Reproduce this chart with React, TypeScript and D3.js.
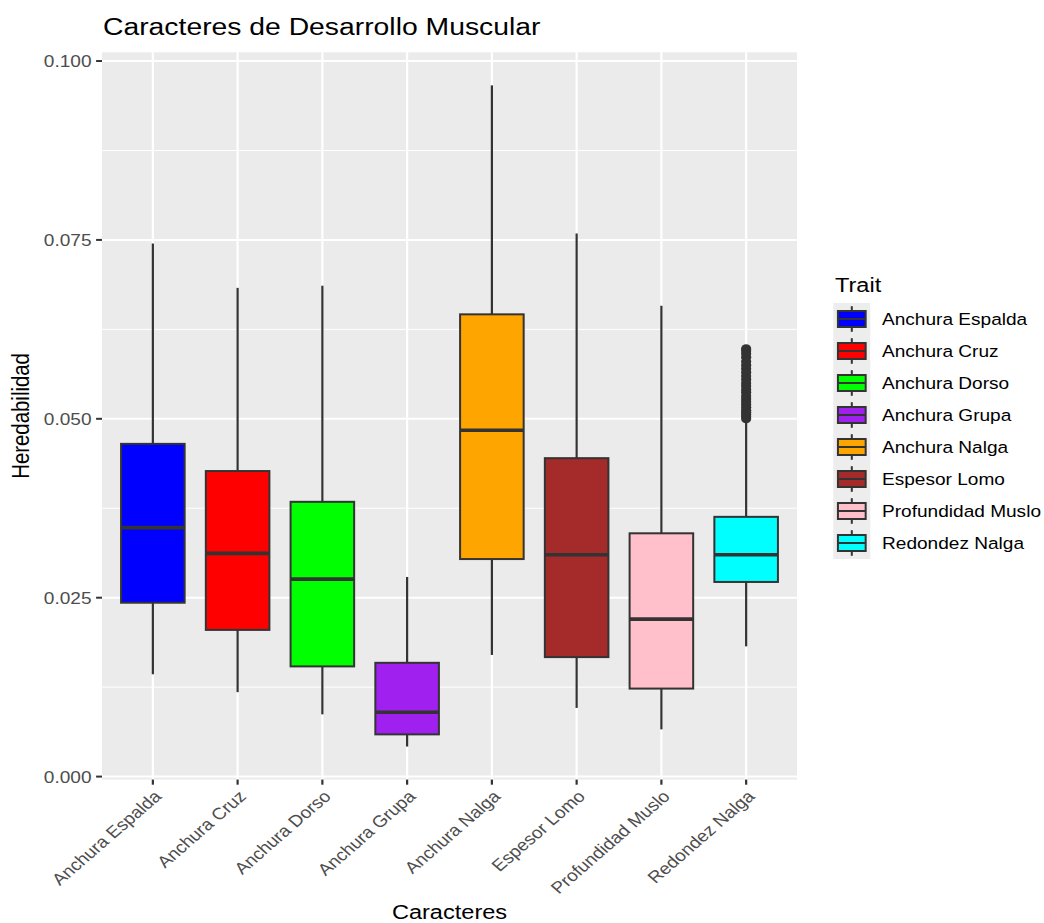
import React from "react";
import * as d3 from "d3";

// Traits and their fill colours
const traits = [
  "Anchura Espalda",
  "Anchura Cruz",
  "Anchura Dorso",
  "Anchura Grupa",
  "Anchura Nalga",
  "Espesor Lomo",
  "Profundidad Muslo",
  "Redondez Nalga",
];
const fills = [
  "#0000FF",
  "#FF0000",
  "#00FF00",
  "#A020F0",
  "#FFA500",
  "#A52A2A",
  "#FFC0CB",
  "#00FFFF",
];

// Box statistics per trait
const whiskerLow = [0.0143, 0.0118, 0.0087, 0.0042, 0.017, 0.0096, 0.0066, 0.0182];
const q1 = [0.0243, 0.0205, 0.0154, 0.0059, 0.0304, 0.0167, 0.0123, 0.0272];
const medians = [0.0348, 0.0312, 0.0276, 0.009, 0.0484, 0.031, 0.022, 0.031];
const q3 = [0.0465, 0.0427, 0.0384, 0.0159, 0.0646, 0.0445, 0.034, 0.0363];
const whiskerHigh = [0.0745, 0.0683, 0.0686, 0.0279, 0.0966, 0.0759, 0.0658, 0.0498];

// Outliers above the upper whisker of Redondez Nalga
const redondezOutliers = [
  0.05, 0.0503, 0.0506, 0.0509, 0.0512, 0.0516, 0.052, 0.0524, 0.0528, 0.0532,
  0.0537, 0.0541, 0.0546, 0.055, 0.0555, 0.056, 0.0565, 0.057, 0.0575, 0.058,
  0.0586, 0.0591, 0.0595, 0.0598,
];

const yTicks = [0, 0.025, 0.05, 0.075, 0.1];
const yMinorTicks = [0.0125, 0.0375, 0.0625, 0.0875];

const W = 1044;
const H = 923;
// horizontal stretch applied to the text glyphs
const SX = 1.156;
const FONT = "'Liberation Sans', Arial, Helvetica, sans-serif";

const panel = { left: 102, right: 797, top: 52.3, bottom: 779.6 };

const dataMin = d3.min(whiskerLow) as number;
const dataMax = d3.max([...whiskerHigh, ...redondezOutliers]) as number;
const pad = (dataMax - dataMin) * 0.05;

const x = d3
  .scalePoint<string>()
  .domain(traits)
  .range([panel.left, panel.right])
  .padding(0.6);
const y = d3
  .scaleLinear()
  .domain([dataMin - pad, dataMax + pad])
  .range([panel.bottom, panel.top]);

const boxW = x.step() * 0.75;
const fmt = d3.format(".3f");

type TProps = {
  x: number;
  y: number;
  size: number;
  rotate?: number;
  anchor?: "start" | "middle" | "end";
  fill?: string;
  dy?: string;
  children: React.ReactNode;
};

function Label({ x, y, size, rotate = 0, anchor = "start", fill = "#000", dy, children }: TProps) {
  return (
    <text
      transform={`translate(${x},${y}) scale(${SX},1)${rotate ? ` rotate(${rotate})` : ""}`}
      fontSize={size}
      fontFamily={FONT}
      textAnchor={anchor}
      fill={fill}
      dy={dy}
    >
      {children}
    </text>
  );
}

export default function App() {
  const keyTop = 303;
  const keyH = 32;
  const keyLeft = 833.3;
  const keyW = 37;

  return (
    <svg
      width={W}
      height={H}
      style={{ position: "absolute", left: 0, top: 0, display: "block", background: "#fff" }}
    >
      <rect width={W} height={H} fill="#fff" />

      {/* panel */}
      <rect
        x={panel.left}
        y={panel.top}
        width={panel.right - panel.left}
        height={panel.bottom - panel.top}
        fill="#EBEBEB"
      />
      {yMinorTicks.map((v) => (
        <line key={`mn${v}`} x1={panel.left} x2={panel.right} y1={y(v)} y2={y(v)} stroke="#fff" strokeWidth={1} />
      ))}
      {yTicks.map((v) => (
        <line key={`mj${v}`} x1={panel.left} x2={panel.right} y1={y(v)} y2={y(v)} stroke="#fff" strokeWidth={2} />
      ))}
      {traits.map((t) => (
        <line key={`vg${t}`} x1={x(t)} x2={x(t)} y1={panel.top} y2={panel.bottom} stroke="#fff" strokeWidth={2.2} />
      ))}

      {/* boxes */}
      {traits.map((t, i) => {
        const cx = x(t) as number;
        return (
          <g key={`b${t}`}>
            <line x1={cx} x2={cx} y1={y(q3[i])} y2={y(whiskerHigh[i])} stroke="#333" strokeWidth={2.2} />
            <line x1={cx} x2={cx} y1={y(q1[i])} y2={y(whiskerLow[i])} stroke="#333" strokeWidth={2.2} />
            <rect
              x={cx - boxW / 2}
              y={y(q3[i])}
              width={boxW}
              height={y(q1[i]) - y(q3[i])}
              fill={fills[i]}
              stroke="#333"
              strokeWidth={2}
            />
            <line
              x1={cx - boxW / 2}
              x2={cx + boxW / 2}
              y1={y(medians[i])}
              y2={y(medians[i])}
              stroke="#333"
              strokeWidth={3.6}
            />
          </g>
        );
      })}
      {redondezOutliers.map((v, j) => (
        <ellipse
          key={`o${j}`}
          cx={x("Redondez Nalga")}
          cy={y(v)}
          rx={4.4 * SX}
          ry={4.4}
          fill="#333"
        />
      ))}

      {/* y axis */}
      {yTicks.map((v) => (
        <g key={`yt${v}`}>
          <line x1={panel.left - 5.9} x2={panel.left} y1={y(v)} y2={y(v)} stroke="#333" strokeWidth={2} />
          <Label x={91.5} y={y(v)} size={16.5} anchor="end" fill="#4D4D4D" dy="0.36em">
            {fmt(v)}
          </Label>
        </g>
      ))}
      <Label x={29} y={(panel.top + panel.bottom) / 2} size={20.4} rotate={-90} anchor="middle">
        Heredabilidad
      </Label>

      {/* x axis */}
      {traits.map((t) => (
        <g key={`xt${t}`}>
          <line x1={x(t)} x2={x(t)} y1={panel.bottom} y2={panel.bottom + 5.1} stroke="#333" strokeWidth={2.2} />
          <Label x={x(t) as number} y={789} size={16.5} rotate={-45} anchor="end" fill="#4D4D4D" dy="0.72em">
            {t}
          </Label>
        </g>
      ))}
      <Label x={(panel.left + panel.right) / 2} y={919} size={20.4} anchor="middle">
        Caracteres
      </Label>

      {/* title */}
      <Label x={103} y={35} size={24.5}>
        Caracteres de Desarrollo Muscular
      </Label>

      {/* legend */}
      <Label x={835} y={292} size={20.4}>
        Trait
      </Label>
      {traits.map((t, i) => {
        const top = keyTop + i * keyH;
        const cx = keyLeft + keyW / 2;
        return (
          <g key={`lg${t}`}>
            <rect x={keyLeft} y={top} width={keyW} height={keyH} fill="#EDEDED" />
            <line x1={cx} x2={cx} y1={top + keyH * 0.1} y2={top + keyH * 0.25} stroke="#333" strokeWidth={2} />
            <line x1={cx} x2={cx} y1={top + keyH * 0.75} y2={top + keyH * 0.9} stroke="#333" strokeWidth={2} />
            <rect
              x={keyLeft + keyW * 0.125}
              y={top + keyH * 0.25}
              width={keyW * 0.75}
              height={keyH * 0.5}
              fill={fills[i]}
              stroke="#333"
              strokeWidth={2}
            />
            <line
              x1={keyLeft + keyW * 0.125}
              x2={keyLeft + keyW * 0.875}
              y1={top + keyH / 2}
              y2={top + keyH / 2}
              stroke="#333"
              strokeWidth={2}
            />
            <Label x={882} y={top + keyH / 2} size={16.5} dy="0.36em">
              {t}
            </Label>
          </g>
        );
      })}
    </svg>
  );
}
